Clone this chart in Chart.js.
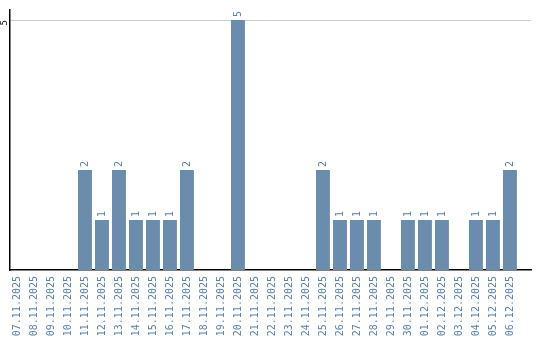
<!DOCTYPE html>
<html>
<head>
<meta charset="utf-8">
<script src="https://cdn.jsdelivr.net/npm/chart.js@4"></script>
<style>
  html, body { margin: 0; padding: 0; background: #fff; }
  #chart { display: block; }
</style>
</head>
<body>
<canvas id="chart" width="540" height="340"></canvas>
<script>
  const dates = [
    '07.11.2025', '08.11.2025', '09.11.2025', '10.11.2025', '11.11.2025',
    '12.11.2025', '13.11.2025', '14.11.2025', '15.11.2025', '16.11.2025',
    '17.11.2025', '18.11.2025', '19.11.2025', '20.11.2025', '21.11.2025',
    '22.11.2025', '23.11.2025', '24.11.2025', '25.11.2025', '26.11.2025',
    '27.11.2025', '28.11.2025', '29.11.2025', '30.11.2025', '01.12.2025',
    '02.12.2025', '03.12.2025', '04.12.2025', '05.12.2025', '06.12.2025'
  ];
  const counts = [
    0, 0, 0, 0, 2,
    1, 2, 1, 1, 1,
    2, 0, 0, 5, 0,
    0, 0, 0, 2, 1,
    1, 1, 0, 1, 1,
    1, 0, 1, 1, 2
  ];
  const yTicks = [5];

  const BAR = '#6a8cad';
  const TEXT = '#5b81ab';
  const MONO = '"DejaVu Sans Mono", monospace';

  // value labels above bars + the single rotated y tick
  const labelsPlugin = {
    id: 'labels',
    afterDatasetsDraw(chart) {
      const ctx = chart.ctx;
      const meta = chart.getDatasetMeta(0);
      ctx.save();
      ctx.font = '10px ' + MONO;
      ctx.fillStyle = TEXT;
      ctx.textAlign = 'left';
      ctx.textBaseline = 'middle';
      meta.data.forEach((bar, i) => {
        if (!counts[i]) return;
        ctx.save();
        ctx.translate(bar.x, bar.y - 3);
        ctx.rotate(-Math.PI / 2);
        ctx.fillText(String(counts[i]), 0, 0);
        ctx.restore();
      });
      const y = chart.scales.y;
      ctx.font = '9px ' + MONO;
      ctx.fillStyle = '#000';
      ctx.textAlign = 'right';
      yTicks.forEach(v => {
        ctx.save();
        ctx.translate(4.5, y.getPixelForValue(v));
        ctx.rotate(-Math.PI / 2);
        ctx.fillText(String(v), 0, 0);
        ctx.restore();
      });
      ctx.restore();
    }
  };

  new Chart(document.getElementById('chart'), {
    type: 'bar',
    data: {
      labels: dates,
      datasets: [{
        data: counts,
        backgroundColor: BAR,
        categoryPercentage: 1,
        barPercentage: 0.82
      }]
    },
    options: {
      responsive: false,
      animation: false,
      layout: { padding: { top: 10, right: 9, left: 0, bottom: 0 } },
      plugins: {
        legend: { display: false },
        tooltip: { enabled: false }
      },
      scales: {
        x: {
          // axis runs a bit past the last category, as in the original
          afterBuildTicks(scale) {
            scale._startValue = -0.41;
            scale._valueRange = 30.65;
          },
          afterFit(scale) { scale.height = 70; },
          grid: { display: false, drawTicks: false },
          border: { display: true, color: '#000', width: 1.5 },
          ticks: {
            color: TEXT,
            font: { family: MONO, size: 10 },
            minRotation: 90,
            maxRotation: 90,
            autoSkip: false,
            padding: 6
          }
        },
        y: {
          min: 0,
          max: 5.2,
          afterBuildTicks(scale) { scale.ticks = yTicks.map(v => ({ value: v })); },
          afterFit(scale) { scale.width = 10; },
          grid: { color: '#cccccc', lineWidth: 1, drawTicks: false },
          border: { display: true, color: '#000', width: 1.5 },
          ticks: { display: false }
        }
      }
    },
    plugins: [labelsPlugin]
  });
</script>
</body>
</html>
